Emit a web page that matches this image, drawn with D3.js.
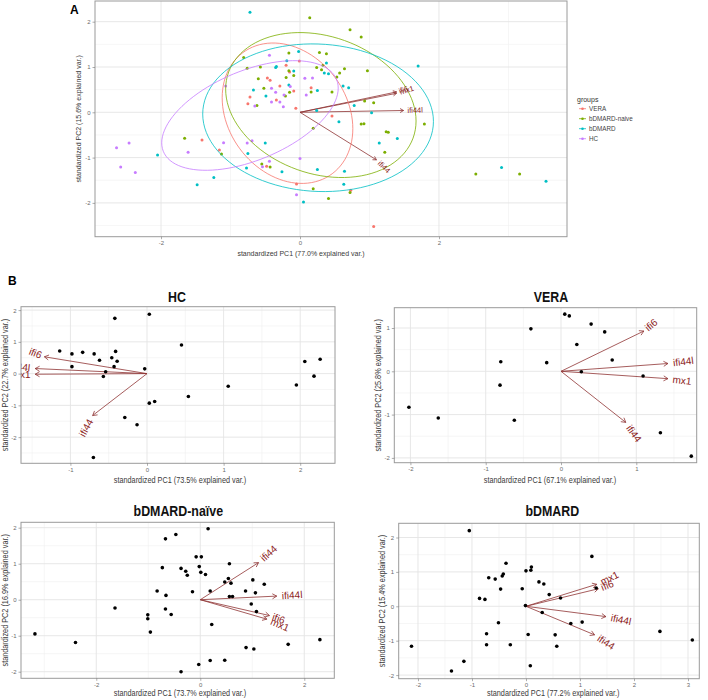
<!DOCTYPE html>
<html><head><meta charset="utf-8">
<script src="https://cdn.jsdelivr.net/npm/d3@7"></script>
<style>body{margin:0;background:#fff}</style>
</head><body>
<script>
// ---------------- DATA ----------------
const groups = ["VERA", "bDMARD-naive", "bDMARD", "HC"];
const varNames = ["ifi6", "mx1", "ifi44l", "ifi44"];

// Panel A scores per group (PC1, PC2)
const aVERA = [[-0.01,1.13],[-0.20,1.04],[-0.15,0.89],[-0.47,0.76],[-0.43,0.71],[-0.29,0.58],[-0.09,0.47],[0.16,0.54],[-0.72,0.34],[-0.34,0.27],[-0.75,0.19],[-0.06,0.09],[0.46,-0.08],[-1.41,-0.61],[-1.16,-0.83],[-0.48,-1.19],[-0.05,-1.58],[0.73,-1.72],[1.06,-2.52]];
const aNaive = [[0.14,2.09],[0.72,1.82],[0.88,1.66],[-0.16,1.31],[0.28,1.32],[0.38,1.29],[-0.81,1.21],[0.33,1.04],[0.24,0.99],[0.31,0.94],[0.64,0.96],[0.57,0.87],[0.97,0.92],[-0.57,1.00],[-0.76,0.97],[-0.16,0.92],[-0.09,0.81],[0.53,0.78],[-0.20,0.77],[-0.60,0.74],[-0.52,0.53],[0.16,0.45],[0.46,0.45],[-0.15,0.44],[-0.21,0.36],[-0.62,0.15],[0.93,0.25],[1.06,0.21],[0.88,-0.26],[0.92,-0.25],[1.24,-0.43],[1.27,-0.44],[1.79,-0.26],[1.22,-0.88],[0.19,-0.35],[-1.66,-0.57],[-1.13,-0.92],[-0.55,-1.14],[-0.43,-1.21],[0.19,-1.69],[0.41,-1.90],[0.72,-1.77],[2.53,-1.36],[3.16,-1.36]];
const aBDMARD = [[-0.72,2.21],[-0.02,1.34],[-0.19,1.14],[-0.35,0.99],[-0.34,1.01],[-0.09,0.91],[0.38,1.09],[0.35,0.87],[0.41,0.85],[1.70,1.02],[-0.16,0.60],[-0.67,0.49],[-0.49,0.36],[0.62,0.58],[0.70,0.54],[0.25,0.48],[0.78,0.15],[0.24,0.04],[1.03,-0.01],[0.56,-0.21],[1.14,-0.68],[1.40,-0.58],[0.64,-1.30],[0.63,-1.59],[0.25,-1.26],[0.05,-1.98],[-0.26,-1.31],[-0.50,-0.68],[-0.75,-0.91],[-0.77,-1.23],[-1.24,-1.44],[-1.48,-1.60],[-2.05,-0.94],[2.90,-1.22],[3.54,-1.52]];
const aHC = [[-0.44,1.26],[-1.07,0.58],[-0.14,0.57],[-0.41,0.53],[-0.35,0.44],[-0.23,0.38],[0.07,0.75],[0.18,0.76],[0.09,0.38],[-0.41,0.23],[-0.29,0.23],[-0.65,0.14],[-0.24,0.12],[-2.64,-0.78],[-2.46,-0.68],[-2.58,-1.21],[-2.37,-1.33],[-1.61,-0.88],[-1.10,-0.67],[-0.76,-0.68],[-0.69,-0.63],[-0.54,-1.20],[-0.44,-1.08],[0.00,-1.02],[-0.05,-1.82]];

// Panel A group ellipses (centre, half-width, half-height, correlation), order = groups
const ellCx  = [-0.18, 0.30, 0.26, -0.72];
const ellCy  = [-0.02, 0.16, -0.12, -0.07];
const ellRx  = [0.94, 1.37, 1.66, 1.27];
const ellRy  = [1.55, 1.60, 1.63, 1.21];
const ellRho = [-0.22, -0.22, -0.05, 0.50];

// Loadings (order = varNames)
const aLoad     = [[1.39,0.45],[1.39,0.42],[1.49,0.04],[1.10,-1.05]];
const hcLoad    = [[-1.34,0.53],[-1.46,-0.02],[-1.46,0.16],[-0.71,-1.32]];
const veraLoad  = [[1.10,0.93],[1.42,-0.17],[1.42,0.18],[0.86,-1.18]];
const naiveLoad = [[1.33,-0.44],[1.28,-0.54],[1.47,0.10],[1.12,1.03]];
const bdLoad    = [[1.34,0.51],[1.31,0.64],[1.48,-0.30],[1.27,-0.83]];

// Panel B scores
const hcScores = [[0.03,1.87],[-0.42,1.74],[0.45,0.90],[-1.14,0.71],[-0.98,0.62],[-0.84,0.67],[-0.69,0.62],[-0.41,0.70],[-0.62,0.42],[-0.46,0.50],[-0.39,0.39],[-0.43,0.22],[-0.98,0.22],[-0.54,0.06],[-0.57,-0.09],[-0.03,0.15],[1.06,-0.40],[0.54,-0.72],[0.03,-0.93],[0.10,-0.88],[-0.29,-1.38],[-0.13,-1.61],[-0.70,-2.64],[2.06,0.38],[2.26,0.45],[2.18,-0.08],[1.95,-0.36]];
const veraScores = [[0.05,1.32],[0.11,1.28],[0.40,1.09],[-0.40,0.98],[0.58,0.91],[0.21,0.62],[-0.80,0.22],[-0.19,0.20],[0.68,0.26],[0.27,-0.01],[1.09,-0.11],[-0.81,-0.32],[-2.02,-0.83],[-1.63,-1.08],[-0.62,-1.13],[1.32,-1.42],[1.73,-1.96]];
const naiveScores = [[0.15,1.97],[-0.47,1.81],[-0.67,1.69],[-0.08,1.19],[0.02,1.19],[0.56,1.00],[-0.73,0.89],[-0.37,0.87],[-0.02,0.92],[-0.28,0.79],[-0.25,0.68],[0.01,0.76],[0.10,0.70],[1.01,0.55],[1.23,0.43],[0.54,0.59],[0.47,0.49],[0.59,0.46],[-0.83,0.24],[-0.15,0.22],[0.19,0.24],[0.87,0.24],[1.06,0.19],[-0.66,0.12],[0.56,0.09],[0.62,0.09],[0.98,-0.12],[-1.64,-0.23],[-0.67,-0.26],[-0.56,-0.41],[-1.01,-0.42],[-1.01,-0.53],[1.08,-0.33],[0.22,-0.69],[-0.96,-0.90],[-3.18,-0.95],[-2.40,-1.19],[1.69,-1.24],[2.30,-1.11],[0.88,-1.33],[1.03,-1.37],[0.19,-1.69],[0.47,-1.68],[-0.03,-1.80],[-0.37,-2.00]];
const bdScores = [[-1.05,2.20],[1.22,1.45],[-0.37,1.25],[0.10,1.14],[0.09,1.05],[0.00,1.03],[-0.42,0.94],[-0.44,0.88],[-0.69,0.83],[-0.57,0.79],[0.24,0.71],[0.33,0.65],[1.30,0.53],[-0.47,0.50],[-0.07,0.51],[0.43,0.34],[0.64,0.24],[-0.86,0.23],[-0.76,0.20],[-0.01,0.02],[0.30,-0.18],[-0.51,-0.48],[1.04,-0.46],[0.83,-0.50],[-0.73,-0.80],[0.04,-0.82],[0.54,-0.83],[2.48,-0.73],[3.08,-0.98],[-2.12,-1.16],[-0.73,-1.12],[-0.29,-1.12],[0.57,-1.16],[-1.15,-1.60],[-1.38,-1.88],[0.08,-1.73]];

// Explained variance labels
const pc1Var = ["77.0", "73.5", "67.1", "73.7", "77.2"];
const pc2Var = ["15.6", "22.7", "25.8", "16.9", "15.4"];
const panelTitles = ["", "HC", "VERA", "bDMARD-naïve", "bDMARD"];

// ---------------- STYLE ----------------
const groupColors = ["#F8766D", "#7CAE00", "#00BFC4", "#C77CFF"];
const arrowColor = "#8f3434";
const labelColor = "#8B1A1A";
const sans = "'Liberation Sans',Arial,sans-serif";

const svg = d3.select("body").append("svg").attr("width", 708).attr("height", 700)
  .style("font-family", sans);
svg.append("rect").attr("width", 708).attr("height", 700).attr("fill", "#fff");

let clipId = 0;
function minorTicks(major, dom) {
  const step = major[1] - major[0];
  const out = [];
  for (let v = major[0] - step / 2; v <= major[major.length - 1] + step / 2 + 1e-9; v += step) out.push(+v.toFixed(4));
  return out.filter(v => v > dom[0] && v < dom[1]);
}

function panel(cfg) {
  const x = d3.scaleLinear().domain(cfg.xdom).range([cfg.l, cfg.r]);
  const y = d3.scaleLinear().domain(cfg.ydom).range([cfg.b, cfg.t]);
  const g = svg.append("g");
  const id = "clip" + (clipId++);
  g.append("clipPath").attr("id", id).append("rect")
    .attr("x", cfg.l).attr("y", cfg.t).attr("width", cfg.r - cfg.l).attr("height", cfg.b - cfg.t);
  // grid
  const grid = g.append("g");
  minorTicks(cfg.xticks, cfg.xdom).forEach(v => grid.append("line").attr("x1", x(v)).attr("x2", x(v)).attr("y1", cfg.t).attr("y2", cfg.b).attr("stroke", "#f0f0f0").attr("stroke-width", 0.6));
  minorTicks(cfg.yticks, cfg.ydom).forEach(v => grid.append("line").attr("y1", y(v)).attr("y2", y(v)).attr("x1", cfg.l).attr("x2", cfg.r).attr("stroke", "#f0f0f0").attr("stroke-width", 0.6));
  cfg.xticks.forEach(v => grid.append("line").attr("x1", x(v)).attr("x2", x(v)).attr("y1", cfg.t).attr("y2", cfg.b).attr("stroke", "#e4e4e4").attr("stroke-width", 0.9));
  cfg.yticks.forEach(v => grid.append("line").attr("y1", y(v)).attr("y2", y(v)).attr("x1", cfg.l).attr("x2", cfg.r).attr("stroke", "#e4e4e4").attr("stroke-width", 0.9));

  const body = g.append("g").attr("clip-path", `url(#${id})`);
  // arrows
  const fs = cfg.labelSize;
  cfg.load.forEach((p, i) => {
    const x0 = x(0), y0 = y(0), x1 = x(p[0]), y1 = y(p[1]);
    body.append("line").attr("x1", x0).attr("y1", y0).attr("x2", x1).attr("y2", y1)
      .attr("stroke", arrowColor).attr("stroke-width", 0.8);
    const ang = Math.atan2(y1 - y0, x1 - x0), hl = cfg.headLen, ha = Math.PI / 6;
    body.append("path").attr("d", `M${x1 - hl * Math.cos(ang - ha)},${y1 - hl * Math.sin(ang - ha)}L${x1},${y1}L${x1 - hl * Math.cos(ang + ha)},${y1 - hl * Math.sin(ang + ha)}`)
      .attr("fill", "none").attr("stroke", arrowColor).attr("stroke-width", 0.8);
  });
  // points
  cfg.series.forEach(s => {
    body.append("g").selectAll("circle").data(s.data).join("circle")
      .attr("cx", d => x(d[0])).attr("cy", d => y(d[1])).attr("r", cfg.pr).attr("fill", s.color);
  });
  // ellipses
  if (cfg.ellipses) {
    const line = d3.line().x(d => x(d[0])).y(d => y(d[1]));
    cfg.ellipses.forEach(e => {
      const phi = Math.acos(e.rho);
      const pts = d3.range(0, 101).map(k => {
        const t = k / 100 * 2 * Math.PI;
        return [e.cx + e.rx * Math.cos(t), e.cy + e.ry * Math.cos(t + phi)];
      });
      body.append("path").attr("d", line(pts)).attr("fill", "none").attr("stroke", e.color).attr("stroke-width", 0.8);
    });
  }
  // variable labels (ggbiplot style)
  cfg.load.forEach((p, i) => {
    const angle = Math.atan(p[1] / p[0]) * 180 / Math.PI;
    const hjust = (1 - 1.5 * Math.sign(p[0])) / 2;
    const t = body.append("text").text(varNames[i])
      .attr("font-size", fs).attr("fill", labelColor)
      .attr("dominant-baseline", "central").attr("text-anchor", "start");
    const w = t.node().getComputedTextLength();
    t.attr("x", -hjust * w).attr("y", 0)
      .attr("transform", `translate(${x(p[0])},${y(p[1])}) rotate(${-angle})`);
  });
  // border
  g.append("rect").attr("x", cfg.l).attr("y", cfg.t).attr("width", cfg.r - cfg.l).attr("height", cfg.b - cfg.t)
    .attr("fill", "none").attr("stroke", "#9a9a9a").attr("stroke-width", 1);
  // axes
  const ax = g.append("g").attr("transform", `translate(0,${cfg.b})`)
    .call(d3.axisBottom(x).tickValues(cfg.xticks).tickSize(2.5).tickPadding(1.5).tickFormat(d3.format("d")));
  const ay = g.append("g").attr("transform", `translate(${cfg.l},0)`)
    .call(d3.axisLeft(y).tickValues(cfg.yticks).tickSize(2.5).tickPadding(2).tickFormat(d3.format("d")));
  [ax, ay].forEach(a => {
    a.select(".domain").remove();
    a.selectAll(".tick line").attr("stroke", "#777").attr("stroke-width", 0.6);
    a.selectAll(".tick text").attr("fill", "#6b6b6b").attr("font-size", cfg.tickSize).attr("font-family", sans)
      .text(d => String(d).replace("\u2212", "-"));
  });
  // axis titles (horizontally condensed like the reference)
  const sx = cfg.axisScale;
  g.append("text").attr("transform", `translate(${cfg.xlabX},${cfg.xlabY}) scale(${sx},1)`)
    .attr("text-anchor", "middle")
    .attr("dominant-baseline", "central").attr("font-size", cfg.axisSize).attr("fill", "#3a3a3a")
    .text(`standardized PC1 (${cfg.pc1}% explained var.)`);
  g.append("text").attr("transform", `translate(${cfg.ylabX},${(cfg.t + cfg.b) / 2}) rotate(-90) scale(${sx},1)`)
    .attr("text-anchor", "middle").attr("dominant-baseline", "central")
    .attr("font-size", cfg.axisSize).attr("fill", "#3a3a3a")
    .text(`standardized PC2 (${cfg.pc2}% explained var.)`);
  if (cfg.title) {
    g.append("text").attr("transform", `translate(${cfg.titleX},${cfg.titleY}) scale(0.8,1)`)
      .attr("text-anchor", "middle")
      .attr("dominant-baseline", "central").attr("font-size", 15.5).attr("font-weight", "bold")
      .attr("fill", "#111").text(cfg.title);
  }
}

// ---------------- PANEL A ----------------
const aSeries = [aVERA, aNaive, aBDMARD, aHC];
panel({
  l: 95, r: 567, t: 1, b: 236.7, xdom: [-2.95, 3.842], ydom: [-2.746, 2.457],
  xticks: [-2, 0, 2], yticks: [-2, -1, 0, 1, 2],
  series: aSeries.map((d, i) => ({ data: d, color: groupColors[i] })),
  ellipses: groups.map((gname, i) => ({ cx: ellCx[i], cy: ellCy[i], rx: ellRx[i], ry: ellRy[i], rho: ellRho[i], color: groupColors[i] })),
  load: aLoad, labelSize: 7.5, headLen: 4, pr: 1.5, tickSize: 6, axisSize: 7, axisScale: 1,
  xlabX: 301, xlabY: 253, ylabX: 78, pc1: pc1Var[0], pc2: pc2Var[0]
});
svg.append("text").attr("x", 70).attr("y", 10).attr("font-size", 12).attr("font-weight", "bold")
  .attr("dominant-baseline", "central").text("A");

// legend
const lg = svg.append("g");
lg.append("text").attr("x", 577).attr("y", 99).attr("font-size", 7).attr("fill", "#333")
  .attr("dominant-baseline", "central").text("groups");
groups.forEach((gname, i) => {
  const yy = 108.7 + i * 10;
  lg.append("line").attr("x1", 579).attr("x2", 586).attr("y1", yy).attr("y2", yy).attr("stroke", groupColors[i]).attr("stroke-width", 0.8);
  lg.append("circle").attr("cx", 582.5).attr("cy", yy).attr("r", 1.3).attr("fill", groupColors[i]);
  lg.append("text").attr("x", 589).attr("y", yy).attr("font-size", 6.3).attr("fill", "#444")
    .attr("dominant-baseline", "central").text(gname);
});

// ---------------- PANEL B ----------------
svg.append("text").attr("x", 8).attr("y", 281).attr("font-size", 12).attr("font-weight", "bold")
  .attr("dominant-baseline", "central").text("B");

const bCommon = { labelSize: 10, headLen: 5, pr: 1.8, tickSize: 6, axisSize: 8.3, axisScale: 0.88 };
panel(Object.assign({}, bCommon, {
  l: 21, r: 335, t: 306.7, b: 463.3, xdom: [-1.645, 2.454], ydom: [-2.824, 2.107],
  xticks: [-1, 0, 1, 2], yticks: [-2, -1, 0, 1, 2],
  series: [{ data: hcScores, color: "#000" }], load: hcLoad,
  xlabX: 180, xlabY: 480.7, ylabX: 5.5, pc1: pc1Var[1], pc2: pc2Var[1],
  title: panelTitles[1], titleX: 177, titleY: 296.5
}));
panel(Object.assign({}, bCommon, {
  l: 394.3, r: 696.7, t: 307.7, b: 462.7, xdom: [-2.214, 1.802], ydom: [-2.111, 1.469],
  xticks: [-2, -1, 0, 1], yticks: [-2, -1, 0, 1],
  series: [{ data: veraScores, color: "#000" }], load: veraLoad,
  xlabX: 550, xlabY: 480, ylabX: 378.5, pc1: pc1Var[2], pc2: pc2Var[2],
  title: panelTitles[2], titleX: 551, titleY: 296
}));
panel(Object.assign({}, bCommon, {
  l: 21, r: 334.3, t: 522.3, b: 678.3, xdom: [-3.448, 2.577], ydom: [-2.183, 2.15],
  xticks: [-2, 0, 2], yticks: [-2, -1, 0, 1, 2],
  series: [{ data: naiveScores, color: "#000" }], load: naiveLoad,
  xlabX: 180, xlabY: 693.3, ylabX: 5.5, pc1: pc1Var[3], pc2: pc2Var[3],
  title: panelTitles[3], titleX: 178.3, titleY: 510
}));
panel(Object.assign({}, bCommon, {
  l: 398.7, r: 699.3, t: 523.3, b: 678.7, xdom: [-2.357, 3.209], ydom: [-2.105, 2.413],
  xticks: [-2, -1, 0, 1, 2, 3], yticks: [-2, -1, 0, 1, 2],
  series: [{ data: bdScores, color: "#000" }], load: bdLoad,
  xlabX: 553.3, xlabY: 693.3, ylabX: 382.5, pc1: pc1Var[4], pc2: pc2Var[4],
  title: panelTitles[4], titleX: 552.3, titleY: 510.7
}));
</script>
</body></html>
